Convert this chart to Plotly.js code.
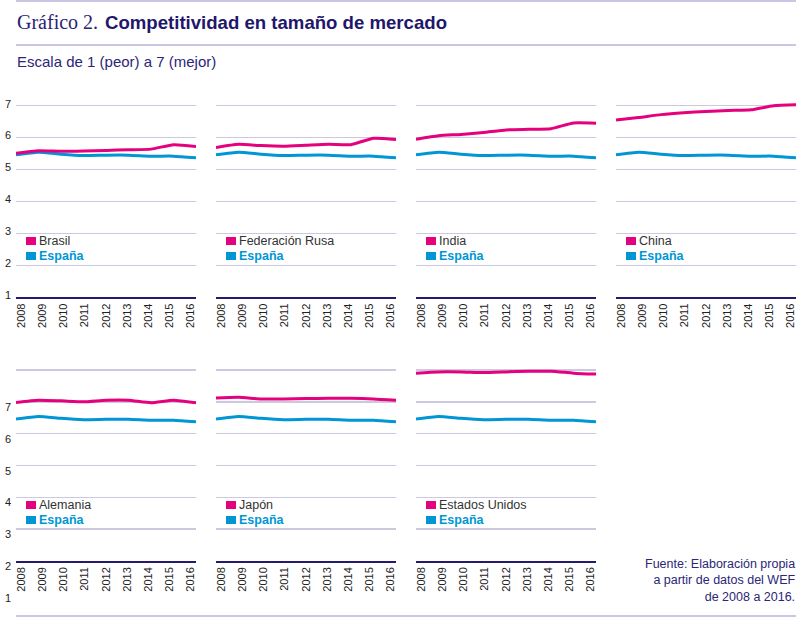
<!DOCTYPE html>
<html>
<head>
<meta charset="utf-8">
<script src="https://cdn.plot.ly/plotly-3.0.1.min.js"></script>
<style>
  html, body { margin: 0; padding: 0; background: #fff; }
  #chart { width: 800px; height: 625px; }
</style>
</head>
<body>
<div id="chart"></div>
<script>
/* ---------------- DATA ---------------- */
const years = [2008, 2009, 2010, 2011, 2012, 2013, 2014, 2015, 2016];
const yTicks = [1, 2, 3, 4, 5, 6, 7];
const countries = ["Brasil", "Federación Rusa", "India", "China", "Alemania", "Japón", "Estados Unidos"];
const refName = "España";

const brasil   = [5.51, 5.59, 5.57, 5.58, 5.60, 5.62, 5.64, 5.78, 5.72];
const rusia    = [5.69, 5.79, 5.75, 5.73, 5.76, 5.79, 5.78, 5.98, 5.94];
const india    = [5.95, 6.06, 6.10, 6.16, 6.24, 6.26, 6.28, 6.46, 6.45];
const china    = [6.55, 6.63, 6.72, 6.78, 6.82, 6.85, 6.87, 7.00, 7.03];
const alemania = [5.98, 6.05, 6.03, 6.00, 6.05, 6.05, 5.97, 6.05, 5.97];
const japon    = [6.12, 6.14, 6.09, 6.09, 6.10, 6.11, 6.11, 6.09, 6.05];
const eeuu     = [6.90, 6.94, 6.94, 6.92, 6.94, 6.96, 6.96, 6.90, 6.87];
const espana   = [5.46, 5.54, 5.48, 5.44, 5.45, 5.45, 5.42, 5.42, 5.37];

const series = [brasil, rusia, india, china, alemania, japon, eeuu];

/* ---------------- STYLE ---------------- */
const PINK = "#e5007e";
const BLUE = "#0096d6";
const NAVY = "#231b6e";
const GRID = "#cbc8e0";
const RULE = "#b8b3da";

// panel placement (px on an 800x625 page)
const colLeft = [16, 216, 416, 616];
const panelW = 180;
const rowDomain = [[1 - 297.3 / 625, 1 - 99.3 / 625], [1 - 561 / 625, 1 - 363.6 / 625]];

const traces = [];
const layout = {
  width: 800,
  height: 625,
  margin: { l: 0, r: 0, t: 0, b: 0 },
  paper_bgcolor: "#fff",
  plot_bgcolor: "rgba(0,0,0,0)",
  showlegend: false,
  font: { family: "Liberation Sans, Arial, sans-serif", color: "#222" },
  annotations: [],
  shapes: []
};

// legend key: a small filled box + label, inside the panel
function legendRow(xa, ya, yVal, color, label) {
  layout.annotations.push({
    xref: xa + " domain", yref: ya, x: 10 / panelW, y: yVal,
    xanchor: "left", yanchor: "middle", showarrow: false,
    text: " ", width: 10, height: 8, borderpad: 0, borderwidth: 0,
    bgcolor: color, font: { size: 2 }
  });
  layout.annotations.push({
    xref: xa + " domain", yref: ya, x: 21 / panelW, y: yVal,
    xanchor: "left", yanchor: "middle", showarrow: false,
    text: label, font: { size: 12.5, color: color === BLUE ? BLUE : "#333" }
  });
}

countries.forEach((name, i) => {
  const row = i < 4 ? 0 : 1;
  const col = row === 0 ? i : i - 4;
  const n = i + 1;
  const xa = "x" + (n === 1 ? "" : n);
  const ya = "y" + (n === 1 ? "" : n);
  const xl = "x" + (n + 7);

  // España first so the country line sits on top
  traces.push({
    x: years, y: espana, xaxis: xa, yaxis: ya,
    mode: "lines", line: { color: BLUE, width: 3, shape: "spline", smoothing: 0.5 },
    name: refName, hoverinfo: "skip"
  });
  traces.push({
    x: years, y: series[i], xaxis: xa, yaxis: ya,
    mode: "lines", line: { color: PINK, width: 3, shape: "spline", smoothing: 0.5 },
    name: name, hoverinfo: "skip"
  });
  // carrier for the year-label axis (draws nothing)
  traces.push({
    x: years, y: series[i], xaxis: xl, yaxis: ya,
    mode: "lines", line: { width: 0 }, opacity: 0, hoverinfo: "skip"
  });

  layout["xaxis" + (n === 1 ? "" : n)] = {
    domain: [colLeft[col] / 800, (colLeft[col] + panelW) / 800],
    anchor: ya,
    range: [2008, 2016],
    showticklabels: false,
    ticks: "",
    showgrid: false,
    zeroline: false,
    showline: true,
    linecolor: NAVY,
    linewidth: 2
  };
  // year labels sit a little inside the panel edges, as in the original
  layout["xaxis" + (n + 7)] = {
    overlaying: xa,
    anchor: ya,
    side: "bottom",
    range: [2007.76, 2016.24],
    tickvals: years,
    ticktext: years.map(String),
    tickangle: -90,
    ticks: "",
    ticklabelstandoff: 3,
    ticklabeloverflow: "allow",
    tickfont: { size: 11, color: "#222" },
    showgrid: false,
    zeroline: false,
    showline: false
  };
  layout["yaxis" + (n === 1 ? "" : n)] = {
    domain: rowDomain[row],
    anchor: xa,
    range: [1, 7.2],
    tickvals: yTicks,
    ticks: "",
    showticklabels: col === 0,
    ticklabelshift: row === 0 ? -2 : 37,
    ticklabelstandoff: 4,
    ticklabeloverflow: "allow",
    tickfont: { size: 11, color: "#222" },
    showgrid: true,
    gridcolor: GRID,
    gridwidth: 1.5,
    zeroline: false,
    showline: false
  };

  legendRow(xa, ya, 2.76, PINK, name);
  legendRow(xa, ya, 2.29, BLUE, "<b>" + refName + "</b>");
});

/* ---------------- TITLES ---------------- */
layout.annotations.push(
  {
    xref: "paper", yref: "paper", x: 15 / 800, y: 1 - 22 / 625,
    xanchor: "left", yanchor: "middle", showarrow: false,
    text: "Gráfico 2.",
    font: { family: "Liberation Serif, serif", size: 20, color: "#2a2276" }
  },
  {
    xref: "paper", yref: "paper", x: 103 / 800, y: 1 - 22 / 625,
    xanchor: "left", yanchor: "middle", showarrow: false,
    text: "<b>Competitividad en tamaño de mercado</b>",
    font: { family: "Liberation Sans, Arial, sans-serif", size: 18.6, color: "#1f176b" }
  },
  {
    xref: "paper", yref: "paper", x: 15 / 800, y: 1 - 62 / 625,
    xanchor: "left", yanchor: "middle", showarrow: false,
    text: "Escala de 1 (peor) a 7 (mejor)",
    font: { family: "Liberation Sans, Arial, sans-serif", size: 15, color: "#2b2677" }
  },
  {
    xref: "paper", yref: "paper", x: 797 / 800, y: 1 - 580 / 625,
    xanchor: "right", yanchor: "middle", align: "right", showarrow: false,
    text: "Fuente: Elaboración propia<br>a partir de datos del WEF<br>de 2008 a 2016.",
    font: { family: "Liberation Sans, Arial, sans-serif", size: 12.5, color: "#2b2677" }
  }
);

/* ---------------- RULES ---------------- */
[1, 45, 616].forEach(py => {
  layout.shapes.push({
    type: "line", xref: "paper", yref: "paper",
    x0: 16 / 800, x1: 796 / 800, y0: 1 - py / 625, y1: 1 - py / 625,
    line: { color: RULE, width: 1.5 }
  });
});

Plotly.newPlot("chart", traces, layout, { staticPlot: true, displayModeBar: false });
</script>
</body>
</html>
